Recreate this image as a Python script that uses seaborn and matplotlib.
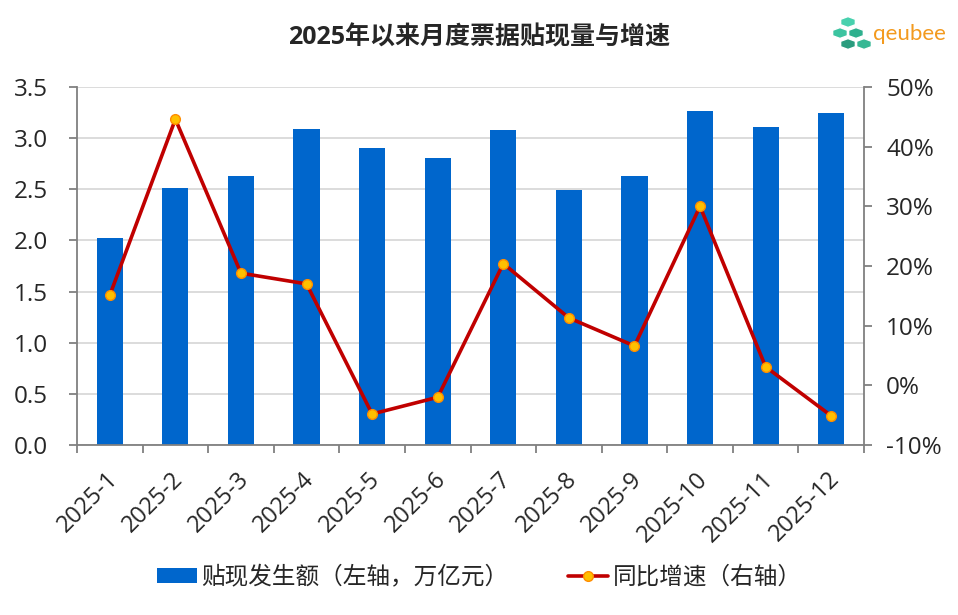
import numpy as np
import pandas as pd
import matplotlib
matplotlib.use("Agg")
import matplotlib.pyplot as plt
import matplotlib.transforms as mtransforms
import seaborn as sns
from matplotlib.patches import Patch, RegularPolygon
from matplotlib.lines import Line2D
from matplotlib.ticker import FuncFormatter, MultipleLocator

months = ["2025-1", "2025-2", "2025-3", "2025-4", "2025-5", "2025-6",
          "2025-7", "2025-8", "2025-9", "2025-10", "2025-11", "2025-12"]
discount_volume = [2.02, 2.51, 2.63, 3.09, 2.90, 2.81, 3.08, 2.49, 2.63, 3.27, 3.11, 3.25]
yoy_growth = [15.1, 44.6, 18.8, 17.0, -4.8, -2.0, 20.4, 11.3, 6.6, 30.0, 3.1, -5.1]
title = "2025年以来月度票据贴现量与增速"
bar_label = "贴现发生额（左轴，万亿元）"
line_label = "同比增速（右轴）"

sns.set_theme(style="white")
plt.rcParams['font.family'] = ['Open Sans', 'Noto Sans CJK SC', 'DejaVu Sans']

df = pd.DataFrame({"month": months, "vol": discount_volume,
                   "yoy": yoy_growth, "pos": np.arange(len(months))})

fig = plt.figure(figsize=(9.58, 6.15), dpi=100)
ax = fig.add_axes([77/958, 1-445/615, (864-77)/958, (445-87)/615])

bar_color = "#0066CC"
sns.barplot(data=df, x="month", y="vol", color=bar_color, width=0.4,
            saturation=1, ax=ax, zorder=2, edgecolor="none")
ax.set_xlim(-0.5, len(months)-0.5)
ax.set_ylim(0, 3.5)
ax.yaxis.set_major_locator(MultipleLocator(0.5))
ax.yaxis.set_major_formatter(FuncFormatter(lambda v, p: f"{v:.1f}"))
ax.grid(axis="y", color="#d9d9d9", linewidth=1.3, zorder=0)
ax.set_axisbelow(True)
ax.set_xlabel("")
ax.set_ylabel("")

ax2 = ax.twinx()
sns.lineplot(data=df, x="pos", y="yoy", ax=ax2, color="#C00000", linewidth=2.6,
             marker="o", markersize=7, markerfacecolor="#FFC000",
             markeredgecolor="#FF8C00", markeredgewidth=1.0, zorder=3)
ax2.set_ylim(-10, 50)
ax2.yaxis.set_major_locator(MultipleLocator(10))
ax2.yaxis.set_major_formatter(FuncFormatter(lambda v, p: f"{v:.0f}%"))
ax2.set_xlabel("")
ax2.set_ylabel("")
ax2.set_xlim(-0.5, len(months)-0.5)

spine_c = "#808080"
for a in (ax, ax2):
    for s in a.spines.values():
        s.set_visible(False)
for a, side in ((ax, "left"), (ax, "bottom"), (ax2, "right")):
    a.spines[side].set_visible(True)
    a.spines[side].set_color(spine_c)
    a.spines[side].set_linewidth(1.3)

txt_c = "#262626"
fs = 17
ax.tick_params(axis="y", left=True, length=6, width=1.3, color=spine_c,
               labelsize=fs + 0.5, labelcolor=txt_c, pad=15)
ax2.tick_params(axis="y", right=True, length=6, width=1.3, color=spine_c,
                labelsize=fs + 0.5, labelcolor=txt_c, pad=10)
ax.set_xticks(np.arange(len(months)))
ax.set_xticklabels(months, rotation=45, ha="right", rotation_mode="anchor")
ax.tick_params(axis="x", which="major", length=0, labelsize=fs,
               labelcolor=txt_c, pad=16)
offset = mtransforms.ScaledTranslation(-4/100, 0, fig.dpi_scale_trans)
for lbl in ax.get_xticklabels():
    lbl.set_transform(lbl.get_transform() + offset)
ax.set_xticks(np.arange(len(months)+1) - 0.5, minor=True)
ax.tick_params(axis="x", which="minor", bottom=True, length=6, width=1.3,
               color=spine_c)

fig.text(0.5, 1-38/615, title, ha="center", va="center", fontsize=18,
         fontweight="bold", color=txt_c)

handles = [Patch(facecolor=bar_color, edgecolor="none"),
           Line2D([0], [0], color="#C00000", linewidth=2.6, marker="o",
                  markersize=7, markerfacecolor="#FFC000",
                  markeredgecolor="#FF8C00")]
fig.legend(handles, [bar_label, line_label], loc="center",
           bbox_to_anchor=(0.5, 1-578/615), ncol=2, frameon=False,
           fontsize=17, handlelength=1.7, handleheight=0.6,
           handletextpad=0.2, columnspacing=2.5, labelcolor=txt_c)

# logo
logo_cells = [(848, 22, "#48D1AE"), (840, 33, "#3CC4A0"), (856, 33, "#2FB08E"),
              (848, 44, "#2A9C7E"), (864, 44, "#36B894")]
for cx, cy, g in logo_cells:
    fig.patches.append(RegularPolygon((cx/958, 1-cy/615), numVertices=6,
                                      radius=8.5/958, orientation=0,
                                      facecolor=g, edgecolor="white",
                                      linewidth=1.0, transform=fig.transFigure,
                                      figure=fig))
fig.text(873/958, 1-34/615, "qeubee", ha="left", va="center", fontsize=16,
         color="#F39A1E", family=["Lato", "DejaVu Sans"])

fig.savefig("out.png", dpi=100)
